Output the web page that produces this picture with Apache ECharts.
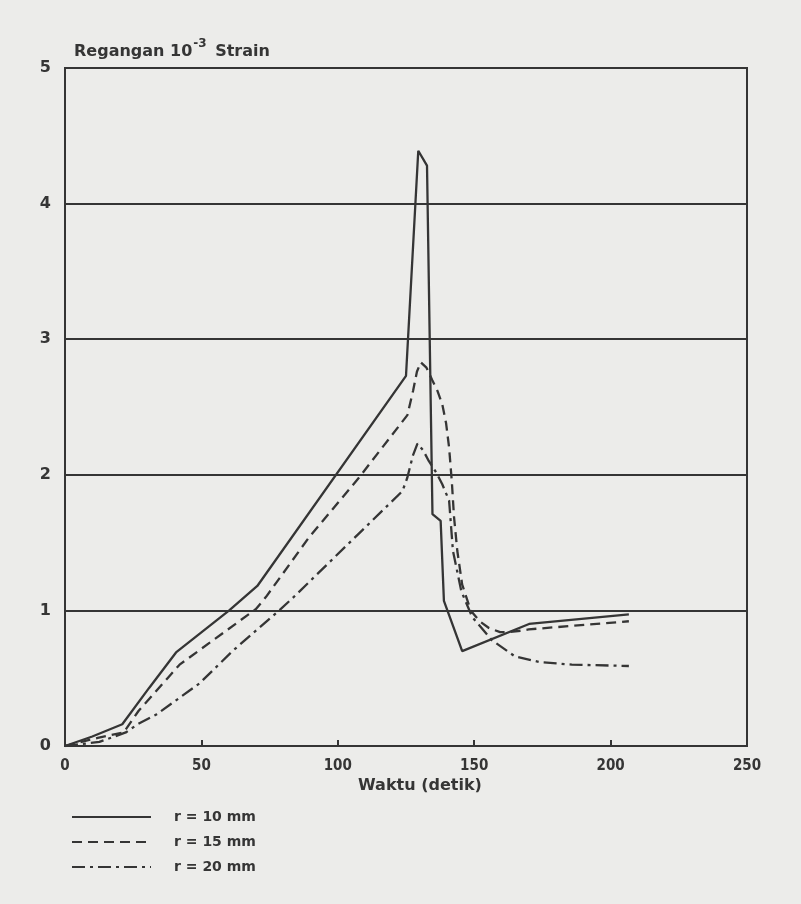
<!DOCTYPE html>
<html>
<head>
<meta charset="utf-8">
<script src="https://cdn.jsdelivr.net/npm/echarts@6/dist/echarts.min.js"></script>
<style>
html,body{margin:0;padding:0;background:#ececea;}
#chart{width:801px;height:904px;}
</style>
</head>
<body>
<div id="chart"></div>
<script>
// Waktu (detik) vs Regangan (10^-3 strain)
var r10Time   = [0, 10, 21, 30.9, 40.7, 60.2, 70.5, 125, 129.5, 132.7, 134.7, 137.7, 138.9, 145.6, 170.1, 206.7];
var r10Strain = [0, 0.07, 0.16, 0.43, 0.69, 1.0, 1.18, 2.73, 4.39, 4.28, 1.71, 1.66, 1.07, 0.70, 0.90, 0.97];

var r15Time   = [0, 12, 21.5, 27, 37.6, 42, 70, 73.7, 89.5, 107.8, 125.5, 127.6, 129, 130.4, 132.5, 134.6, 136.5, 138.3, 139.7, 140.8, 141.8, 142.6, 143.8, 145.6, 148.7, 152, 155.4, 159.5, 163, 167, 170, 206.7];
var r15Strain = [0, 0.06, 0.10, 0.26, 0.50, 0.60, 1.01, 1.10, 1.54, 1.98, 2.44, 2.62, 2.76, 2.83, 2.79, 2.70, 2.62, 2.52, 2.38, 2.20, 1.95, 1.69, 1.44, 1.19, 1.00, 0.92, 0.87, 0.84, 0.84, 0.85, 0.86, 0.92];

var r20Time   = [0, 12.6, 22.3, 26.6, 33.3, 49.2, 61.4, 78.5, 83.4, 123.7, 125.5, 127.5, 129.2, 131.3, 133.4, 136, 138.3, 140.8, 142.2, 145.3, 149.3, 156.5, 165, 173.7, 185.8, 206.7];
var r20Strain = [0, 0.03, 0.10, 0.16, 0.23, 0.46, 0.70, 1.00, 1.09, 1.88, 1.98, 2.14, 2.23, 2.18, 2.10, 2.02, 1.93, 1.81, 1.44, 1.14, 0.95, 0.78, 0.66, 0.62, 0.60, 0.59];

var xTicks = [0, 50, 100, 150, 200, 250];
var yTicks = [0, 1, 2, 3, 4, 5];
var seriesNames = ['r = 10 mm', 'r = 15 mm', 'r = 20 mm'];

function pairs(xs, ys){ return xs.map(function(x,i){ return [x, ys[i]]; }); }

var ink = '#353535';
var font = '"DejaVu Sans", sans-serif';
var fontC = '"DejaVu Sans Condensed", "DejaVu Sans", sans-serif';

var chart = echarts.init(document.getElementById('chart'), null, {renderer:'canvas'});
chart.setOption({
  backgroundColor: '#ececea',
  animation: false,
  title: {
    left: 69, top: 33,
    text: '{a|Regangan 10}{s|-3}{a| Strain}',
    textStyle: {
      rich: {
        a: {fontFamily: font, fontWeight: 'bold', fontSize: 16, color: ink, padding:[6,0,0,0]},
        s: {fontFamily: font, fontWeight: 'bold', fontSize: 12, color: ink, verticalAlign: 'top', padding:[0,3,0,1]}
      }
    }
  },
  grid: {left: 65, right: 54, top: 68, bottom: 158, show: true, borderColor: ink, borderWidth: 2, backgroundColor: 'transparent'},
  xAxis: {
    type: 'value', min: 0, max: 250, interval: 50,
    axisLine: {show: true, lineStyle: {color: ink, width: 2}},
    axisTick: {show: true, inside: true, length: 6, lineStyle: {color: ink, width: 2}},
    splitLine: {show: false},
    axisLabel: {color: ink, fontFamily: fontC, fontWeight: 'bold', fontSize: 15, margin: 13,
      formatter: function(v){ return xTicks.indexOf(v) >= 0 ? String(v) : ''; }}
  },
  yAxis: {
    type: 'value', min: 0, max: 5, interval: 1,
    axisLine: {show: true, lineStyle: {color: ink, width: 2}},
    axisTick: {show: false},
    splitLine: {show: true, lineStyle: {color: ink, width: 2}},
    axisLabel: {color: ink, fontFamily: font, fontWeight: 'bold', fontSize: 16, margin: 14,
      formatter: function(v){ return yTicks.indexOf(v) >= 0 ? String(v) : ''; }}
  },
  legend: {
    orient: 'vertical', left: 66, top: 804, itemWidth: 79, itemHeight: 16, itemGap: 9,
    data: seriesNames,
    itemStyle: {color: 'rgba(0,0,0,0)', borderWidth: 0, opacity: 0},
    textStyle: {color: ink, fontFamily: font, fontWeight: 'bold', fontSize: 14, padding: [0,0,0,18], lineHeight: 16}
  },
  graphic: [{
    type: 'text', left: 358, top: 778,
    style: {text: 'Waktu (detik)', fill: ink, font: 'bold 16px ' + font}
  }],
  series: [
    {name: seriesNames[0], type: 'line', data: pairs(r10Time, r10Strain), symbol: 'none',
     lineStyle: {color: ink, width: 2.3, type: 'solid'}, itemStyle: {color: ink}},
    {name: seriesNames[1], type: 'line', data: pairs(r15Time, r15Strain), symbol: 'none',
     lineStyle: {color: ink, width: 2.3, type: [10, 6]}, itemStyle: {color: ink}},
    {name: seriesNames[2], type: 'line', data: pairs(r20Time, r20Strain), symbol: 'none',
     lineStyle: {color: ink, width: 2.3, type: [13, 5, 3, 5]}, itemStyle: {color: ink}}
  ]
});
</script>
</body>
</html>
